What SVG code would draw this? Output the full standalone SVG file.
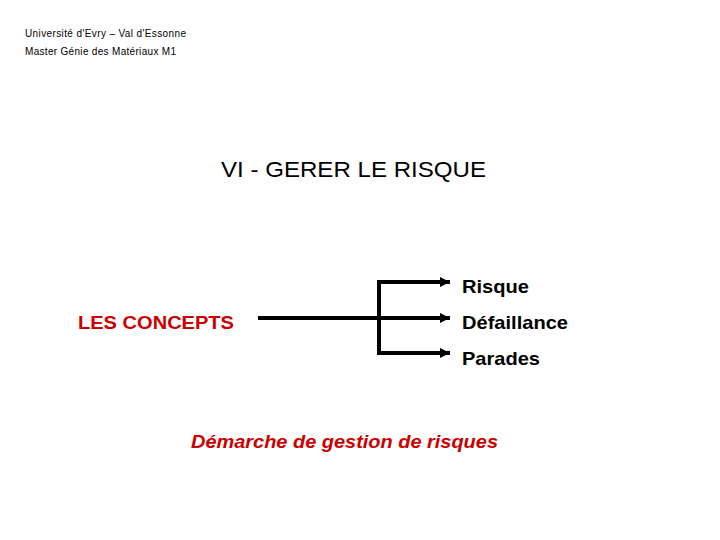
<svg xmlns="http://www.w3.org/2000/svg" width="720" height="540" viewBox="0 0 720 540">
<style>
text{font-family:"Liberation Sans",Arial,sans-serif}
.hdr{font-size:10px;fill:#000}
.lbl{font-size:19px;fill:#000;font-weight:bold}
.red{fill:#cc0000}
.ln{stroke:#000;stroke-width:4;fill:none}
</style>
<defs>
<marker id="ah" markerWidth="2.6" markerHeight="2.6" refX="2.6" refY="1.3" orient="auto" markerUnits="strokeWidth">
<path d="M0,0 L2.6,1.3 L0,2.6 z" fill="#000"/>
</marker>
</defs>
<rect width="720" height="540" fill="#fff"/>
<g id="header">
<text class="hdr" x="25" y="37" textLength="161" lengthAdjust="spacing">Université d'Evry – Val d'Essonne</text>
<text class="hdr" x="25" y="55" textLength="151" lengthAdjust="spacing">Master Génie des Matériaux  M1</text>
</g>
<g id="title"><text x="221" y="177" font-size="22" fill="#000" textLength="265" lengthAdjust="spacingAndGlyphs">VI - GERER LE RISQUE</text></g>
<g id="concepts"><text class="lbl red" x="78" y="329" font-size="18" textLength="156" lengthAdjust="spacingAndGlyphs">LES CONCEPTS</text></g>
<g id="risque"><text class="lbl" x="462" y="293" textLength="67" lengthAdjust="spacingAndGlyphs">Risque</text></g>
<g id="defaillance"><text class="lbl" x="462" y="329" textLength="106" lengthAdjust="spacingAndGlyphs">Défaillance</text></g>
<g id="parades"><text class="lbl" x="462" y="365" textLength="78" lengthAdjust="spacingAndGlyphs">Parades</text></g>
<g id="demarche"><text x="191" y="448" font-size="19" font-style="italic" font-weight="bold" class="red" textLength="307" lengthAdjust="spacingAndGlyphs">Démarche de gestion de risques</text></g>
<g id="connectors">
<path class="ln" d="M258,318 H450" marker-end="url(#ah)"/>
<path class="ln" d="M446,282 H379 V353 H446"/>
<path class="ln" d="M440,282 H450" marker-end="url(#ah)"/>
<path class="ln" d="M440,353 H450" marker-end="url(#ah)"/>
</g>
</svg>
